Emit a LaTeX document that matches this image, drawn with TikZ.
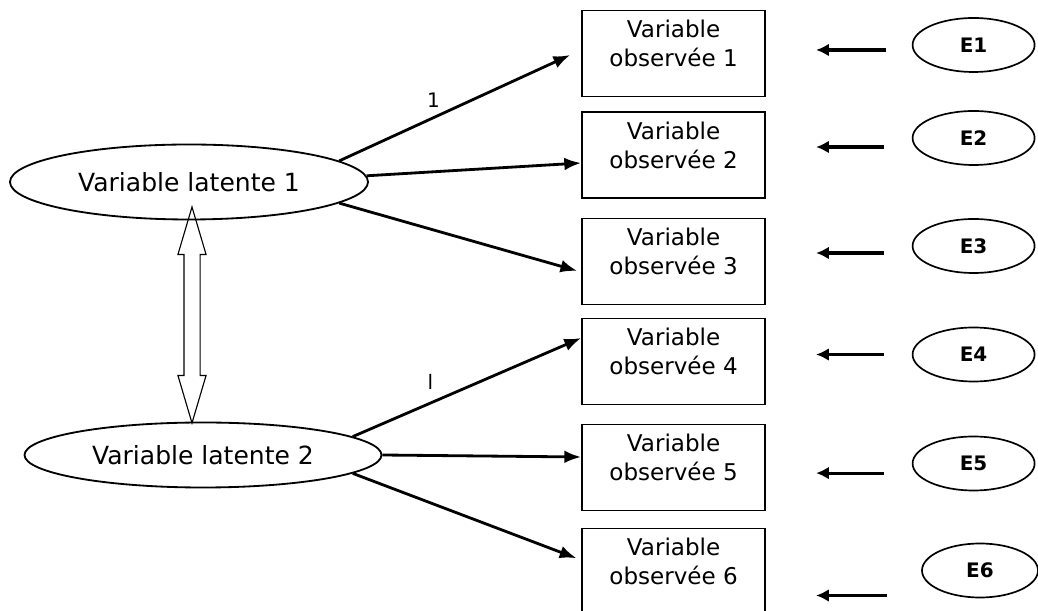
\documentclass[tikz,border=0pt]{standalone}
\usepackage{fontspec}
\setmainfont{DejaVu Sans}
\usetikzlibrary{shapes.geometric,shapes.arrows,arrows.meta}

\begin{document}
\begin{tikzpicture}[
  latent/.style={draw,ellipse,line width=1.3pt,inner sep=0pt,font=\fontsize{17.8}{21}\selectfont},
  obsbox/.style={draw,rectangle,line width=1.4pt,minimum width=4.575cm,minimum height=2.15cm,inner sep=0pt},
  obstext/.style={anchor=north,inner sep=0pt,align=center,yshift=-0.2625cm,font=\fontsize{16.4}{20.6}\selectfont},
  errnode/.style={draw,ellipse,line width=1.2pt,minimum height=1.35cm,inner sep=0pt,font=\bfseries\fontsize{14.2}{17}\selectfont},
  load/.style={line width=2pt,-{Latex[length=0.42cm,width=0.32cm]}},
  errarrow/.style={line width=2.2pt,-{Latex[length=0.32cm,width=0.32cm]}},
  corr/.style={draw,double arrow,rotate=90,line width=0.8pt,minimum height=5.4cm,inner xsep=0pt,inner ysep=0.1875cm,double arrow head extend=0.15cm,double arrow tip angle=33},
  weight/.style={font=\fontsize{14.2}{17}\selectfont}
]

  \useasboundingbox (0,0) rectangle (25.95,15.275);
  \clip (0,0) rectangle (25.95,15.275);

  %% ---- Latent variables ----
  \node[latent,minimum width=8.95cm,minimum height=1.875cm] (lat1) at (4.725,10.725) {Variable latente 1};
  \node[latent,minimum width=8.925cm,minimum height=1.625cm] (lat2) at (5.075,3.9) {Variable latente 2};

  % Correlation between the two latents
  \path ([xshift=0.075cm,yshift=0.3cm]lat1.south) -- node[corr] (corr) {} ([xshift=-0.275cm]lat2.north);

  %% ---- Observed variables ----
  \foreach \i/\y in {1/13.9375, 2/11.4, 3/8.7375, 4/6.2375, 5/3.5875, 6/0.9875} {
    \node[obsbox] (o\i) at (16.84,\y) {};
    \node[obstext] (t\i) at (o\i.north) {Variable\\observée \i};
  }

  %% ---- Error terms ----
  \foreach \i/\x/\y/\w in {1/24.34/14.15/3.05cm, 2/24.34/11.825/3.05cm, 3/24.34/9.125/3.05cm,
                           4/24.34/6.4125/3.05cm, 5/24.34/3.6875/3.05cm, 6/24.5/1.0125/2.9cm} {
    \node[errnode,minimum width=\w] (e\i) at (\x,\y) {E\i};
  }

  % Error arrows (free-floating between the columns)
  \foreach \i/\dy/\s in {1/-0.125/0.64cm, 2/-0.225/0.7cm, 3/-0.175/0.7cm,
                         4/0/0.7cm, 5/-0.24/0.7cm, 6/-0.625/0.85cm} {
    \coordinate (s\i) at ([yshift=\dy cm]e\i.west);
    \draw[errarrow,shorten <=\s,shorten >=1.25cm] (s\i) -- (s\i -| o\i.east);
  }

  %% ---- Loadings ----
  \draw[load,shorten >=0.3cm] (lat1.8) -- node[weight,pos=0.39,above=0.1cm] (w1) {1} ([yshift=0.0875cm]o1.west);
  \draw[load] (lat1.2) -- ([yshift=-0.2cm]o2.west);
  \draw[load,shorten >=0.1cm] (lat1.-8) -- ([yshift=-0.2625cm]o3.west);

  \draw[load] (lat2.7) -- node[weight,pos=0.34,above=0.18cm] (w4) {l} ([yshift=0.5875cm]o4.west);
  \draw[load] (lat2.east) -- ([yshift=0.2625cm]o5.west);
  \draw[load,shorten >=0.125cm] (lat2.-7) -- ([yshift=0.2875cm]o6.west);

\end{tikzpicture}
\end{document}
